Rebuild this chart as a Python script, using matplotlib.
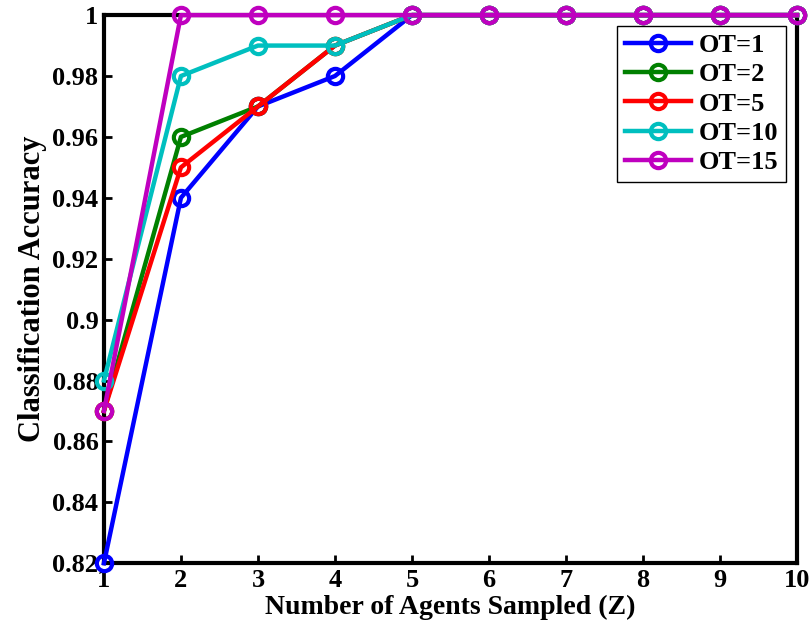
import matplotlib
matplotlib.use('Agg')
import matplotlib.pyplot as plt
import numpy as np

Z = [1, 2, 3, 4, 5, 6, 7, 8, 9, 10]
ot1 = [0.82, 0.94, 0.97, 0.98, 1, 1, 1, 1, 1, 1]
ot2 = [0.87, 0.96, 0.97, 0.99, 1, 1, 1, 1, 1, 1]
ot5 = [0.87, 0.95, 0.97, 0.99, 1, 1, 1, 1, 1, 1]
ot10 = [0.88, 0.98, 0.99, 0.99, 1, 1, 1, 1, 1, 1]
ot15 = [0.87, 1, 1, 1, 1, 1, 1, 1, 1, 1]
labels = ['OT=1', 'OT=2', 'OT=5', 'OT=10', 'OT=15']
colors = ['#0000ff', '#008000', '#ff0000', '#00bfbf', '#bf00bf']
ytick_labels = ['0.82', '0.84', '0.86', '0.88', '0.9', '0.92', '0.94', '0.96', '0.98', '1']

plt.rcParams['font.family'] = 'Liberation Serif'
plt.rcParams['font.weight'] = 'bold'

fig = plt.figure(figsize=(8.12, 6.3), dpi=100)
ax = fig.add_axes([0.128, 0.106, 0.8535, 0.870])

for ys, lab, col in zip([ot1, ot2, ot5, ot10, ot15], labels, colors):
	ax.plot(Z, ys, '-o', color=col, lw=3.2, ms=11, mfc='none', mew=3,
		label=lab, clip_on=False, zorder=3)

ax.set_xlim(1, 10)
ax.set_ylim(0.82, 1)
ax.set_xticks(Z)
ax.set_yticks(np.linspace(0.82, 1, 10))
ax.set_yticklabels(ytick_labels)
ax.tick_params(direction='in', length=6, width=2, labelsize=19, pad=4)
for s in ax.spines.values():
	s.set_linewidth(3)

ax.set_xlabel('Number of Agents Sampled (Z)', fontsize=20, fontweight='bold', labelpad=2)
ax.set_ylabel('Classification Accuracy', fontsize=22, fontweight='bold', labelpad=4)

leg = ax.legend(loc='upper right', fontsize=19, fancybox=False, edgecolor='black',
	framealpha=1, handlelength=2.5, borderaxespad=0.4, labelspacing=0.22,
	handletextpad=0.3, borderpad=0.3)
leg.get_frame().set_linewidth(1)

fig.savefig('out.png', dpi=100)
